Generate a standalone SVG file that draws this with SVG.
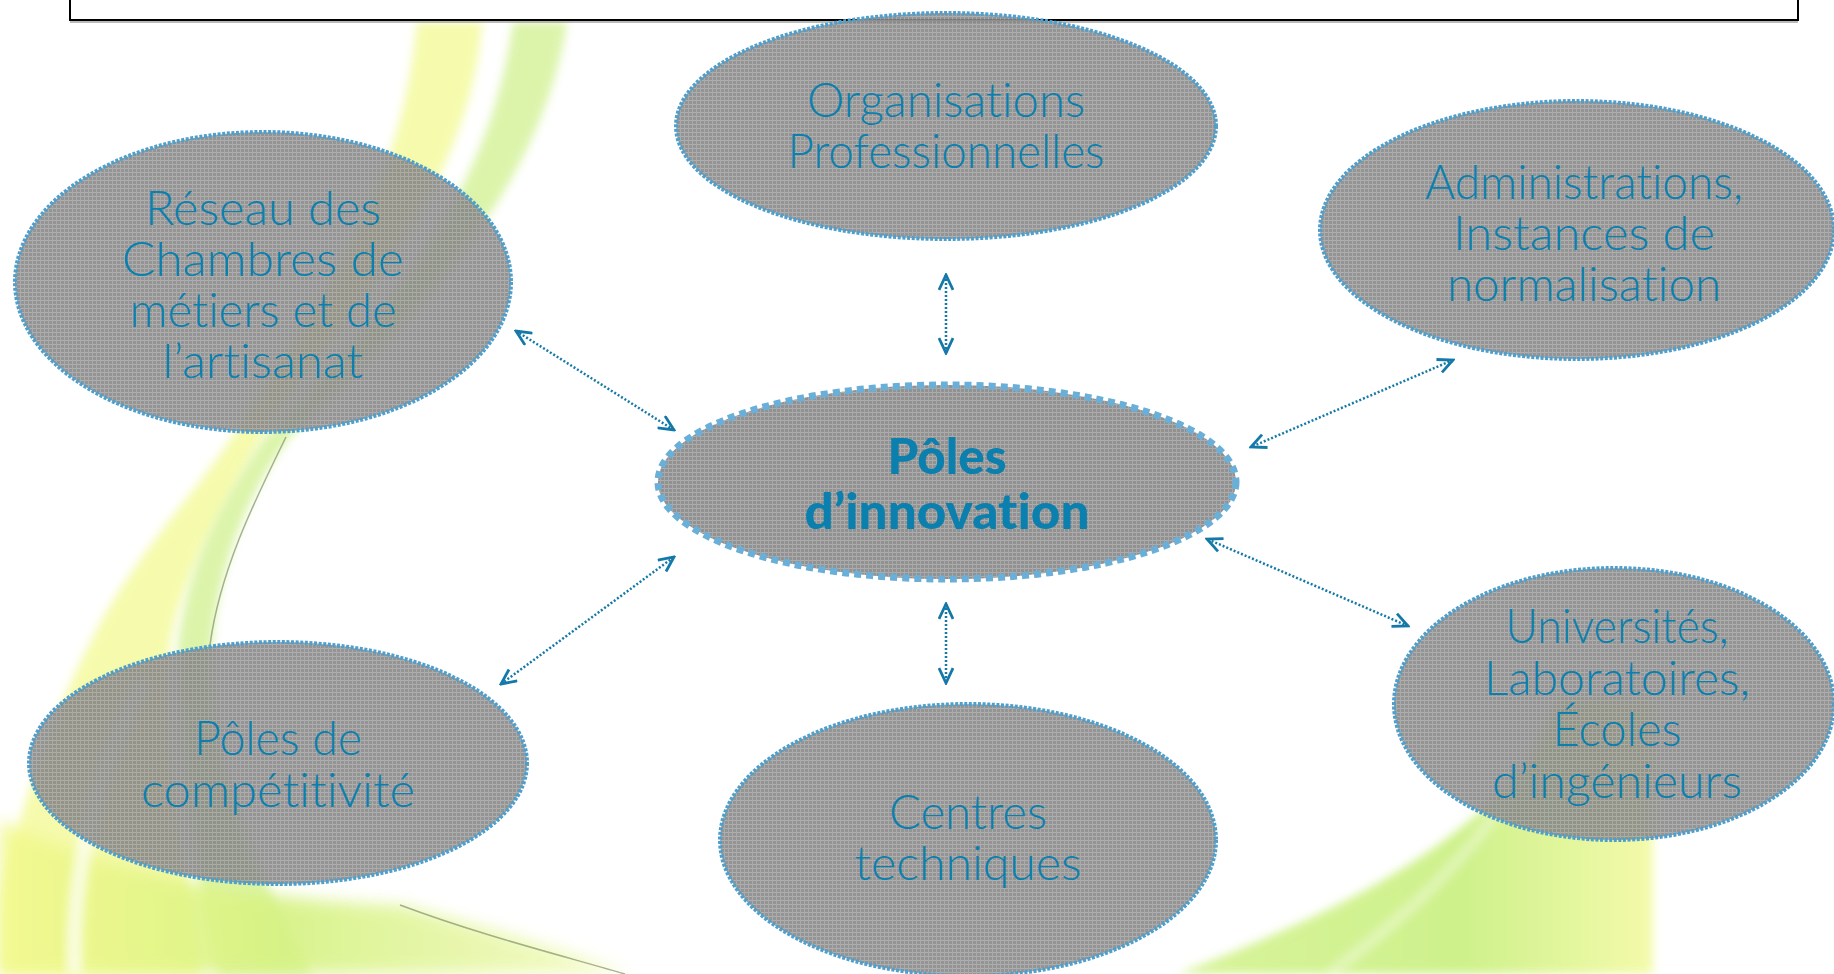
<svg xmlns="http://www.w3.org/2000/svg" width="1834" height="974" viewBox="0 0 1834 974">
<defs>
<pattern id="grid" width="4" height="4" patternUnits="userSpaceOnUse">
<rect width="4" height="4" fill="#858585"/>
<rect width="4" height="1" fill="#a4a4a4"/>
<rect width="1" height="4" fill="#9e9e9e"/>
</pattern>
<linearGradient id="wedgeGrad" x1="0" y1="0" x2="1" y2="0">
<stop offset="0" stop-color="#d2f28a"/>
<stop offset="0.6" stop-color="#c6ef78"/>
<stop offset="1" stop-color="#f2fa9c"/>
</linearGradient>
<linearGradient id="fanGrad" x1="0" y1="0" x2="1" y2="0">
<stop offset="0" stop-color="#f3f98e"/>
<stop offset="0.45" stop-color="#d6f282"/>
<stop offset="1" stop-color="#f4fbc6"/>
</linearGradient>
<filter id="blur8" x="-20%" y="-20%" width="140%" height="140%"><feGaussianBlur stdDeviation="8"/></filter>
<filter id="blur5" x="-20%" y="-20%" width="140%" height="140%"><feGaussianBlur stdDeviation="5"/></filter>
<marker id="arr" viewBox="0 0 18 16" refX="16" refY="8" markerWidth="18" markerHeight="16" markerUnits="userSpaceOnUse" orient="auto-start-reverse">
<path d="M1,1 L16,8 L1,15" fill="none" stroke="#1479a8" stroke-width="2.8"/>
</marker>
<style>
.node{fill:url(#grid);fill-opacity:0.88;stroke:#4f9fcc;stroke-width:4;stroke-dasharray:3 1.6}
.hub{fill:url(#grid);fill-opacity:0.9;stroke:#6aafd8;stroke-width:7;stroke-dasharray:7 5}
.t{font-family:Lato,"Liberation Sans",Arial,sans-serif;font-weight:300;font-size:47px;fill:#0b80ae;text-anchor:middle;font-variant-ligatures:none}
.b{font-family:Lato,"Liberation Sans",Arial,sans-serif;font-size:49px;font-weight:900;fill:#0b80ae;text-anchor:middle;font-variant-ligatures:none}
.c{fill:none;stroke:#1479a8;stroke-width:2.5;stroke-dasharray:2 2;marker-start:url(#arr);marker-end:url(#arr)}
</style>
</defs>
<rect width="1834" height="974" fill="#ffffff"/>
<g id="background">
<path d="M417 22 L482 22 C470 200 330 330 262 437 C220 510 180 580 170 645 C160 760 190 880 200 974 L0 974 L0 900 C20 800 60 700 89 645 C130 560 190 500 232 437 C320 300 400 200 417 22 Z" fill="#f2f98a" opacity="0.7" filter="url(#blur5)"/>
<path d="M513 22 L567 22 C540 200 400 330 290 437 C250 490 220 560 212 645 C205 760 260 880 312 974 L220 974 C195 880 180 760 178 645 C190 550 230 490 265 437 C380 320 490 200 513 22 Z" fill="#c4ed72" opacity="0.6" filter="url(#blur5)"/>
<path d="M0 974 L0 820 C100 870 250 900 400 905 C500 930 580 955 630 974 Z" fill="url(#fanGrad)" opacity="0.9" filter="url(#blur8)"/>
<path d="M75 974 C70 880 95 770 145 680" fill="none" stroke="#ffffff" stroke-width="16" opacity="0.7" filter="url(#blur5)"/>
<path d="M1178 974 C1300 925 1440 870 1530 760 L1560 700 L1653 700 L1653 974 Z" fill="url(#wedgeGrad)" opacity="0.85" filter="url(#blur5)"/>
<path d="M1330 974 C1400 920 1460 870 1520 780" fill="none" stroke="#ffffff" stroke-width="12" opacity="0.35" filter="url(#blur5)"/>
<path d="M286 437 C255 500 220 570 210 645" fill="none" stroke="#6f7f55" stroke-width="1.5" opacity="0.6"/>
<path d="M400 905 C480 935 560 955 625 974" fill="none" stroke="#6f7f55" stroke-width="1.5" opacity="0.6"/>
</g>
<g id="frame">
<rect x="70" y="-10" width="1728" height="30" fill="#ffffff" stroke="#000000" stroke-width="2"/>
<line x1="70" y1="22" x2="1798" y2="22" stroke="#777777" stroke-width="1"/>
</g>
<g id="connectors">
<line class="c" x1="946" y1="275" x2="946" y2="353"/>
<line class="c" x1="516" y1="331" x2="674" y2="430"/>
<line class="c" x1="1453" y1="360" x2="1251" y2="447"/>
<line class="c" x1="501" y1="684" x2="674" y2="557"/>
<line class="c" x1="946" y1="604" x2="946" y2="683"/>
<line class="c" x1="1408" y1="626" x2="1207" y2="539"/>
</g>
<g id="organisations">
<ellipse class="node" cx="946" cy="126" rx="270" ry="113"/>
<text class="t" x="946" y="117" textLength="278" lengthAdjust="spacingAndGlyphs">Organisations</text>
<text class="t" x="946" y="168" textLength="317" lengthAdjust="spacingAndGlyphs">Professionnelles</text>
</g>
<g id="reseau">
<ellipse class="node" cx="263" cy="282" rx="248" ry="150"/>
<text class="t" x="263" y="225" textLength="236" lengthAdjust="spacingAndGlyphs">Réseau des</text>
<text class="t" x="263" y="276" textLength="282" lengthAdjust="spacingAndGlyphs">Chambres de</text>
<text class="t" x="263" y="327" textLength="267" lengthAdjust="spacingAndGlyphs">métiers et de</text>
<text class="t" x="263" y="378" textLength="201" lengthAdjust="spacingAndGlyphs">l’artisanat</text>
</g>
<g id="administrations">
<ellipse class="node" cx="1577" cy="230" rx="257" ry="129"/>
<text class="t" x="1584" y="199" textLength="318" lengthAdjust="spacingAndGlyphs">Administrations,</text>
<text class="t" x="1584" y="250" textLength="262" lengthAdjust="spacingAndGlyphs">Instances de</text>
<text class="t" x="1584" y="301" textLength="274" lengthAdjust="spacingAndGlyphs">normalisation</text>
</g>
<g id="poles-innovation">
<ellipse class="hub" cx="947" cy="482" rx="289" ry="97"/>
<text class="b" x="947" y="474" textLength="119" lengthAdjust="spacingAndGlyphs">Pôles</text>
<text class="b" x="947" y="529" textLength="285" lengthAdjust="spacingAndGlyphs">d’innovation</text>
</g>
<g id="poles-competitivite">
<ellipse class="node" cx="278" cy="763" rx="249" ry="121"/>
<text class="t" x="278" y="755" textLength="168" lengthAdjust="spacingAndGlyphs">Pôles de</text>
<text class="t" x="278" y="807" textLength="274" lengthAdjust="spacingAndGlyphs">compétitivité</text>
</g>
<g id="centres">
<ellipse class="node" cx="968" cy="840" rx="248" ry="136"/>
<text class="t" x="968" y="829" textLength="158" lengthAdjust="spacingAndGlyphs">Centres</text>
<text class="t" x="968" y="880" textLength="227" lengthAdjust="spacingAndGlyphs">techniques</text>
</g>
<g id="universites">
<ellipse class="node" cx="1614" cy="704" rx="220" ry="136"/>
<text class="t" x="1617" y="643" textLength="223" lengthAdjust="spacingAndGlyphs">Universités,</text>
<text class="t" x="1617" y="695" textLength="266" lengthAdjust="spacingAndGlyphs">Laboratoires,</text>
<text class="t" x="1617" y="746" textLength="129" lengthAdjust="spacingAndGlyphs">Écoles</text>
<text class="t" x="1617" y="798" textLength="250" lengthAdjust="spacingAndGlyphs">d’ingénieurs</text>
</g>
</svg>
